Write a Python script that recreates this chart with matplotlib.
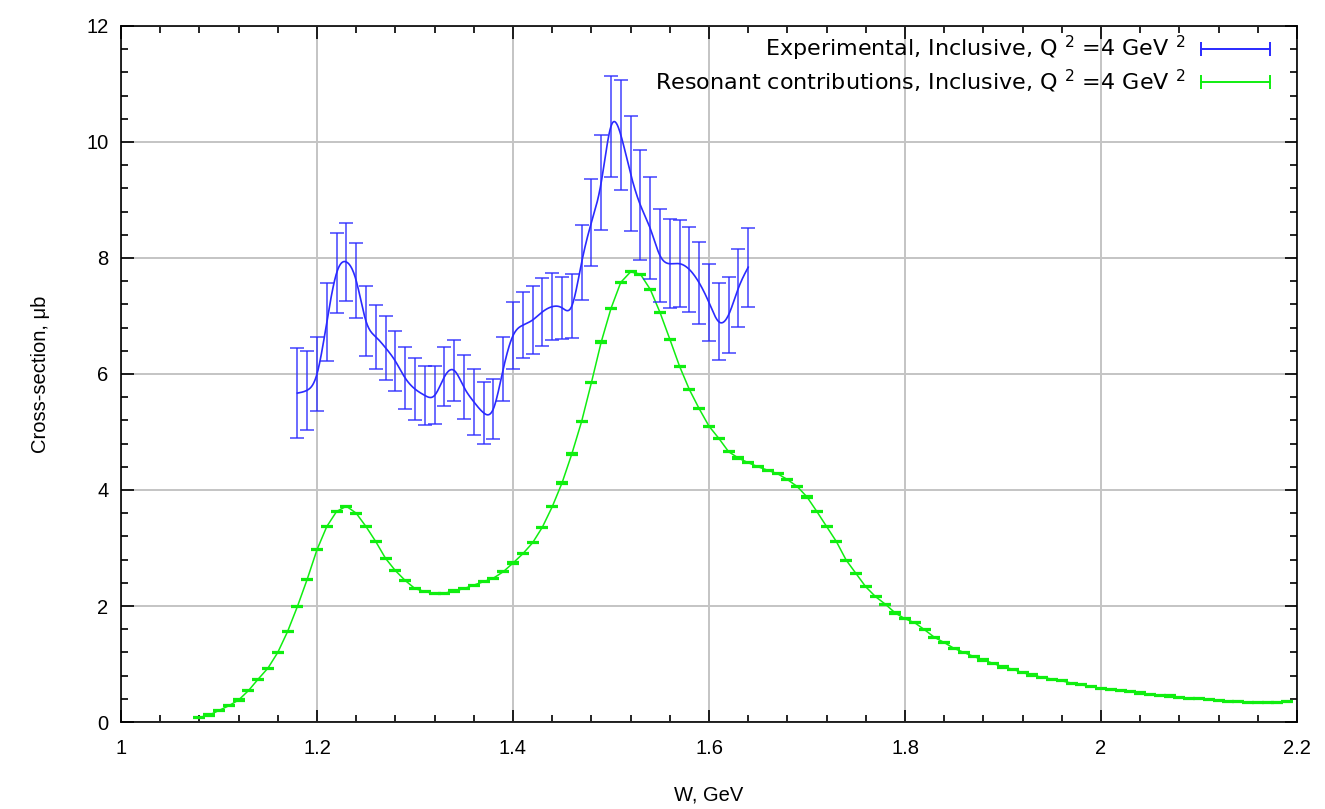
import numpy as np
import matplotlib
matplotlib.use("Agg")
import matplotlib.pyplot as plt
from matplotlib.ticker import MultipleLocator

plt.rcParams['font.family'] = ['Liberation Sans', 'DejaVu Sans']
plt.rcParams['mathtext.fontset'] = 'custom'
plt.rcParams['mathtext.rm'] = 'Liberation Sans'
plt.rcParams['mathtext.it'] = 'Liberation Sans'

# Experimental inclusive cross-section, Q^2 = 4 GeV^2
exp_w = [1.18, 1.19, 1.20, 1.21, 1.22, 1.23, 1.24, 1.25, 1.26, 1.27,
         1.28, 1.29, 1.30, 1.31, 1.32, 1.33, 1.34, 1.35, 1.36, 1.37,
         1.38, 1.39, 1.40, 1.41, 1.42, 1.43, 1.44, 1.45, 1.46, 1.47,
         1.48, 1.49, 1.50, 1.51, 1.52, 1.53, 1.54, 1.55, 1.56, 1.57,
         1.58, 1.59, 1.60, 1.61, 1.62, 1.63, 1.64]
exp_sigma = [5.67, 5.72, 6.00, 6.89, 7.74, 7.93, 7.61, 6.91, 6.64, 6.45,
             6.22, 5.93, 5.74, 5.63, 5.63, 5.95, 6.06, 5.77, 5.52, 5.33,
             5.40, 6.08, 6.66, 6.84, 6.93, 7.07, 7.16, 7.14, 7.17, 7.92,
             8.61, 9.30, 10.27, 10.12, 9.45, 8.91, 8.51, 8.04, 7.90, 7.90,
             7.80, 7.57, 7.23, 6.90, 7.02, 7.48, 7.84]
exp_err = [0.78, 0.68, 0.63, 0.67, 0.69, 0.68, 0.65, 0.60, 0.55, 0.55,
           0.52, 0.54, 0.53, 0.51, 0.50, 0.51, 0.53, 0.55, 0.57, 0.53,
           0.52, 0.55, 0.58, 0.57, 0.58, 0.58, 0.58, 0.54, 0.55, 0.64,
           0.75, 0.82, 0.87, 0.95, 0.99, 0.95, 0.88, 0.80, 0.77, 0.75,
           0.73, 0.71, 0.67, 0.66, 0.66, 0.67, 0.68]

# Resonant contributions, Q^2 = 4 GeV^2
res_w = [round(1.08 + 0.01 * i, 2) for i in range(112)]
res_sigma = [0.08, 0.12, 0.20, 0.28, 0.38, 0.54, 0.74, 0.93, 1.20, 1.56,
             1.99, 2.46, 2.97, 3.37, 3.63, 3.72, 3.60, 3.37, 3.11, 2.82,
             2.61, 2.44, 2.30, 2.25, 2.21, 2.22, 2.26, 2.30, 2.36, 2.42,
             2.48, 2.59, 2.74, 2.90, 3.09, 3.36, 3.71, 4.12, 4.62, 5.18,
             5.85, 6.55, 7.13, 7.58, 7.76, 7.72, 7.46, 7.06, 6.60, 6.13,
             5.73, 5.40, 5.10, 4.89, 4.66, 4.55, 4.47, 4.40, 4.34, 4.28,
             4.18, 4.06, 3.88, 3.63, 3.37, 3.11, 2.79, 2.56, 2.33, 2.16,
             2.03, 1.88, 1.78, 1.71, 1.59, 1.46, 1.37, 1.27, 1.20, 1.13,
             1.07, 1.01, 0.95, 0.91, 0.85, 0.81, 0.77, 0.74, 0.71, 0.67,
             0.64, 0.61, 0.58, 0.56, 0.54, 0.52, 0.50, 0.48, 0.46, 0.45,
             0.43, 0.41, 0.40, 0.39, 0.37, 0.36, 0.35, 0.33, 0.33, 0.33,
             0.33, 0.35]
res_err = 0.01

exp_label = "Experimental, Inclusive, Q $^{2}$ =4 GeV $^{2}$"
res_label = "Resonant contributions, Inclusive, Q $^{2}$ =4 GeV $^{2}$"

blue = "#2a2aff"
green = "#10ee10"


def natural_spline(x, y, n_fine=20):
    # natural cubic spline through all points (like gnuplot csplines)
    x = np.asarray(x, float)
    y = np.asarray(y, float)
    n = len(x)
    h = np.diff(x)
    A = np.zeros((n, n))
    b = np.zeros(n)
    A[0, 0] = 1
    A[-1, -1] = 1
    for i in range(1, n - 1):
        A[i, i - 1] = h[i - 1]
        A[i, i] = 2 * (h[i - 1] + h[i])
        A[i, i + 1] = h[i]
        b[i] = 3 * ((y[i + 1] - y[i]) / h[i] - (y[i] - y[i - 1]) / h[i - 1])
    c = np.linalg.solve(A, b)
    xs, ys = [], []
    for i in range(n - 1):
        t = np.linspace(0, h[i], n_fine, endpoint=False)
        bi = (y[i + 1] - y[i]) / h[i] - h[i] * (2 * c[i] + c[i + 1]) / 3
        di = (c[i + 1] - c[i]) / (3 * h[i])
        xs.append(x[i] + t)
        ys.append(y[i] + bi * t + c[i] * t ** 2 + di * t ** 3)
    xs.append([x[-1]])
    ys.append([y[-1]])
    return np.concatenate(xs), np.concatenate(ys)


fig = plt.figure(figsize=(13.25, 8.09), dpi=100)
ax = fig.add_axes([0.0913, 0.1075, 0.8876, 0.8605])

ax.grid(True, which='major', color='#c4c4c4', linewidth=1.4)
ax.set_axisbelow(True)

# resonant curve with tiny error bars
ax.errorbar(res_w, res_sigma, yerr=res_err, color=green, linewidth=1.1,
            elinewidth=1.1, capsize=4, capthick=1.6, zorder=3)

# experimental points and smooth curve
ax.errorbar(exp_w, exp_sigma, yerr=exp_err, fmt='none', ecolor=blue,
            elinewidth=1.3, capsize=5, capthick=1.3, alpha=0.75, zorder=4)
sx, sy = natural_spline(exp_w, exp_sigma)
ax.plot(sx, sy, color=blue, linewidth=1.2, zorder=5)

ax.set_xlim(1, 2.2)
ax.set_ylim(0, 12)
ax.xaxis.set_major_locator(MultipleLocator(0.2))
ax.xaxis.set_minor_locator(MultipleLocator(0.04))
ax.yaxis.set_major_locator(MultipleLocator(2))
ax.yaxis.set_minor_locator(MultipleLocator(0.4))
ax.set_xticks(np.arange(1, 2.21, 0.2))
ax.set_xticklabels(["1", "1.2", "1.4", "1.6", "1.8", "2", "2.2"])
ax.tick_params(which='both', direction='in', top=True, right=True,
               labelsize=14.5, width=1.2)
ax.tick_params(which='major', length=9)
ax.tick_params(which='minor', length=5)
ax.tick_params(axis='x', pad=12)
ax.tick_params(axis='y', pad=9)
for sp in ax.spines.values():
    sp.set_linewidth(1.2)

ax.set_xlabel("W, GeV", fontsize=14.5, labelpad=20)
ax.set_ylabel("Cross-section, \u03bcb", fontsize=14.5, labelpad=26)

# legend drawn by hand: right-aligned text, sample line with caps
for i, (lab, col) in enumerate([(exp_label, blue), (res_label, green)]):
    yy = 0.967 - i * 0.047
    ax.text(0.905, yy, lab, transform=ax.transAxes, ha='right', va='center',
            fontsize=16, family=['DejaVu Sans'], math_fontfamily='dejavusans')
    ax.plot([0.918, 0.977], [yy, yy], transform=ax.transAxes, color=col,
            linewidth=1.4, marker='|', markersize=10, markeredgewidth=1.4)

fig.savefig("out.png", dpi=100)
